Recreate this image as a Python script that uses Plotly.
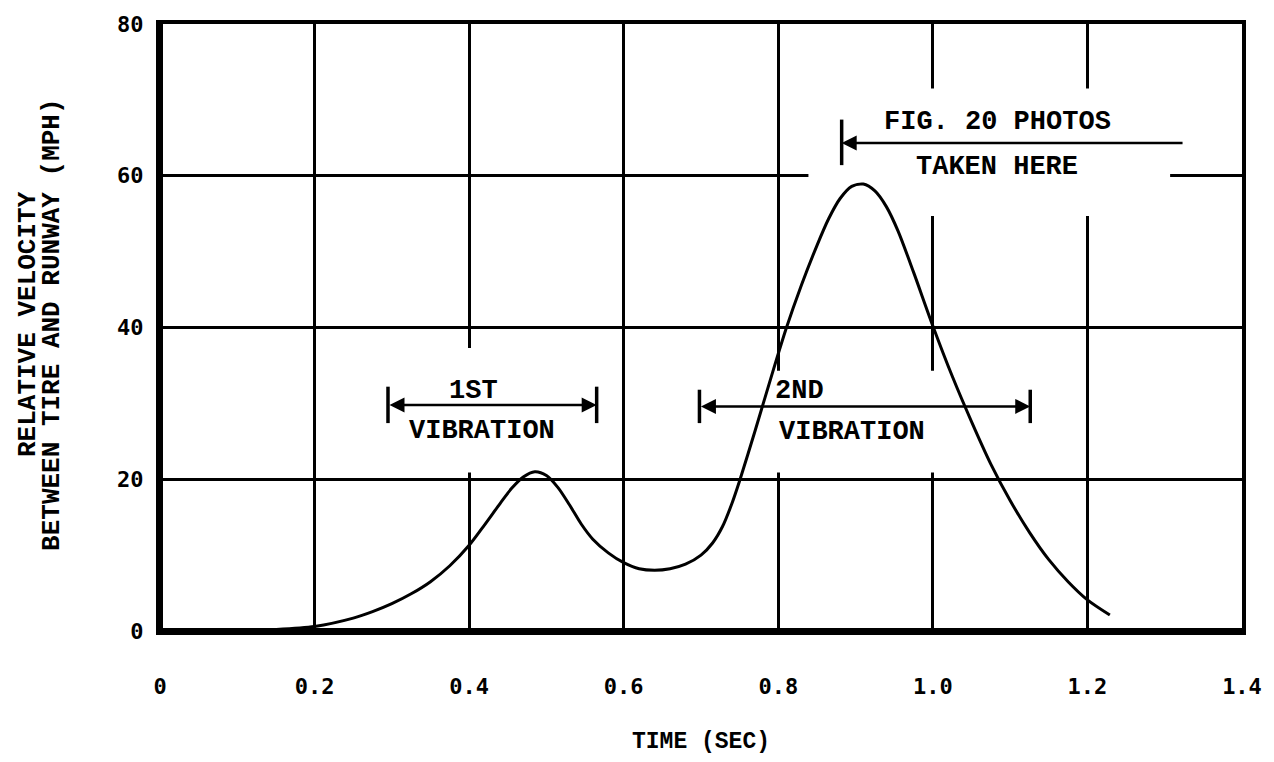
import plotly.graph_objects as go

# ---- data ----
time_s = [0.0, 0.05, 0.10, 0.15, 0.20, 0.25, 0.275, 0.30, 0.325, 0.35, 0.375,
          0.40, 0.42, 0.44, 0.455, 0.47, 0.485, 0.50, 0.515, 0.53, 0.545, 0.56,
          0.58, 0.60, 0.62, 0.64, 0.66, 0.68, 0.70, 0.715, 0.728, 0.74, 0.75,
          0.77, 0.79, 0.81, 0.83, 0.85, 0.865, 0.88, 0.895, 0.91, 0.925, 0.94,
          0.955, 0.975, 1.0, 1.025, 1.05, 1.075, 1.10, 1.125, 1.15, 1.175, 1.20,
          1.229]
velocity_mph = [0.0, 0.0, 0.05, 0.2, 0.6, 1.7, 2.55, 3.6, 4.9, 6.5, 8.6,
                11.3, 14.0, 16.8, 18.8, 20.3, 21.0, 20.5, 18.9, 16.6, 14.1, 12.1,
                10.3, 9.0, 8.2, 8.0, 8.2, 8.8, 10.0, 11.6, 13.8, 16.8, 19.8,
                26.4, 33.2, 39.8, 45.6, 50.8, 54.3, 57.0, 58.6, 58.9, 58.0, 55.9,
                52.7, 47.3, 40.2, 33.6, 27.6, 22.0, 17.2, 13.0, 9.4, 6.5, 4.1,
                2.1]

x_ticks = [0, 0.2, 0.4, 0.6, 0.8, 1.0, 1.2, 1.4]
x_tick_labels = ["0", "0.2", "0.4", "0.6", "0.8", "1.0", "1.2", "1.4"]
y_ticks = [0, 20, 40, 60, 80]
y_tick_labels = ["0", "20", "40", "60", "80"]

# interval markers (start, end, level)
vib1 = (0.295, 0.565, 29.8)
vib2 = (0.698, 1.126, 29.6)
photos = (1.325, 0.882, 64.3)

TYPE = "Liberation Mono"
BLACK = "black"

fig = go.Figure()
fig.add_trace(go.Scatter(x=time_s, y=velocity_mph, mode="lines",
                         line=dict(color=BLACK, width=3, shape="spline", smoothing=0.8),
                         hoverinfo="skip", showlegend=False))

shapes = []
# white masks that open gaps in the grid (drawn between grid and traces)
for (x0, x1, y0, y1) in [(0.38, 0.42, 20.9, 37.3),
                         (0.775, 1.02, 20.9, 34.3),
                         (0.839, 1.307, 54.7, 71.5)]:
    shapes.append(dict(type="rect", xref="x", yref="y", x0=x0, x1=x1, y0=y0, y1=y1,
                       fillcolor="white", line=dict(width=0), layer="between"))
# heavier left and bottom frame edges
shapes.append(dict(type="line", xref="x domain", yref="y domain", x0=0, x1=0,
                   y0=0, y1=1, line=dict(color=BLACK, width=6)))
shapes.append(dict(type="line", xref="x domain", yref="y domain", x0=0, x1=1,
                   y0=0, y1=0, line=dict(color=BLACK, width=6)))
# end bars
for (xb, yc, h) in [(vib1[0], vib1[2], 2.4), (vib1[1], vib1[2], 2.4),
                    (vib2[0], vib2[2], 2.2), (vib2[1], vib2[2], 2.2),
                    (photos[1], 64.4, 3.0)]:
    shapes.append(dict(type="line", xref="x", yref="y", x0=xb, x1=xb,
                       y0=yc - h, y1=yc + h, line=dict(color=BLACK, width=3.5)))

annotations = []
for (a, b, lvl) in [vib1, vib2]:
    annotations.append(dict(x=b, y=lvl, ax=a, ay=lvl, xref="x", yref="y",
                            axref="x", ayref="y", text="", showarrow=True,
                            arrowhead=2, arrowside="end+start", arrowsize=1.2,
                            arrowwidth=2.5, arrowcolor=BLACK))
annotations.append(dict(x=photos[1], y=photos[2], ax=photos[0], ay=photos[2],
                        xref="x", yref="y", axref="x", ayref="y", text="",
                        showarrow=True, arrowhead=2, arrowsize=1.2, arrowwidth=2.5,
                        arrowcolor=BLACK))

txt_font = dict(family=TYPE, size=27, color=BLACK, weight="bold")
for (t, x, y) in [("1ST", 0.405, 31.6), ("VIBRATION", 0.416, 26.3),
                  ("2ND", 0.828, 31.6), ("VIBRATION", 0.896, 26.2),
                  ("FIG. 20 PHOTOS", 1.083, 67.1), ("TAKEN HERE", 1.083, 61.1)]:
    annotations.append(dict(x=x, y=y, xref="x", yref="y", text=t, showarrow=False,
                            font=txt_font))

# y axis title (two lines)
ytitle_font = dict(family=TYPE, size=26, color=BLACK, weight="bold")
annotations.append(dict(x=-0.1215, y=0.505, xref="paper", yref="paper",
                        xanchor="center", yanchor="middle",
                        text="RELATIVE VELOCITY", textangle=-90, showarrow=False,
                        font=ytitle_font))
annotations.append(dict(x=-0.0994, y=0.505, xref="paper", yref="paper",
                        xanchor="center", yanchor="middle",
                        text="BETWEEN TIRE AND RUNWAY (MPH)", textangle=-90,
                        showarrow=False, font=ytitle_font))

tick_font = dict(family="DejaVu Sans Mono", size=22, color=BLACK, weight="bold")

fig.update_layout(
    width=1274, height=762,
    margin=dict(l=160, r=28, t=22, b=129),
    paper_bgcolor="white", plot_bgcolor="white",
    shapes=shapes, annotations=annotations, showlegend=False,
    xaxis=dict(range=[0, 1.4], tickvals=x_ticks, ticktext=x_tick_labels,
               showgrid=True, gridcolor=BLACK, gridwidth=3,
               showline=True, linecolor=BLACK, linewidth=4, mirror=True,
               zeroline=False, ticks="", tickfont=tick_font,
               ticklabelstandoff=33,
               title=dict(text="TIME (SEC)", standoff=34,
                          font=dict(family=TYPE, size=23, color=BLACK, weight="bold"))),
    yaxis=dict(range=[0, 80], tickvals=y_ticks, ticktext=y_tick_labels,
               showgrid=True, gridcolor=BLACK, gridwidth=3,
               showline=True, linecolor=BLACK, linewidth=4, mirror=True,
               zeroline=False, ticks="", tickfont=tick_font,
               ticklabelstandoff=8),
)

fig.write_html("out.html")
